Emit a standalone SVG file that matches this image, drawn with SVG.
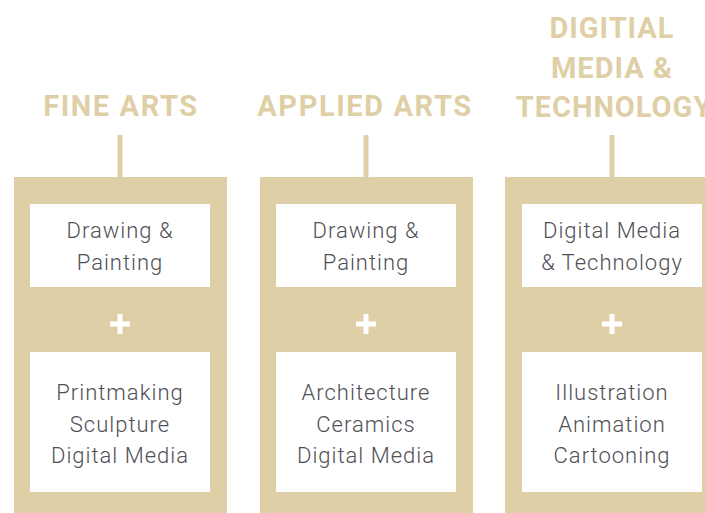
<svg xmlns="http://www.w3.org/2000/svg" width="705" height="513" viewBox="0 0 705 513">
<style>
.frame{fill:#dfcfa6}
.card{fill:#ffffff}
.head{font-family:Roboto,"Liberation Sans",sans-serif;font-weight:700;font-size:29px;fill:#dfcfa6;text-anchor:middle;letter-spacing:1.6px}
.head2{letter-spacing:1px}
.body{font-family:Roboto,"Liberation Sans",sans-serif;font-weight:300;font-size:22px;fill:#505056;text-anchor:middle;letter-spacing:1px}
.plus{stroke:#ffffff;stroke-width:5;fill:none}
.link{stroke:#dfcfa6;stroke-width:5;fill:none}
</style>
<rect width="705" height="513" fill="#ffffff"/>
<g id="connectors">
<line class="link" x1="120" y1="135" x2="120" y2="178"/>
<line class="link" x1="366" y1="135" x2="366" y2="178"/>
<line class="link" x1="612" y1="135" x2="612" y2="178"/>
</g>
<g id="fine-arts">
<text class="head" x="121" y="116">FINE ARTS</text>
<rect class="frame" x="14" y="177" width="213" height="336"/>
<rect class="card" x="30" y="204" width="180" height="83"/>
<text class="body" x="120" y="238">Drawing &amp;</text>
<text class="body" x="120" y="270">Painting</text>
<path class="plus" d="M110 324H130M120 314V334"/>
<rect class="card" x="30" y="352" width="180" height="140"/>
<text class="body" x="120" y="400">Printmaking</text>
<text class="body" x="120" y="432">Sculpture</text>
<text class="body" x="120" y="463">Digital Media</text>
</g>
<g id="applied-arts">
<text class="head" x="365" y="116">APPLIED ARTS</text>
<rect class="frame" x="260" y="177" width="213" height="336"/>
<rect class="card" x="276" y="204" width="180" height="83"/>
<text class="body" x="366" y="238">Drawing &amp;</text>
<text class="body" x="366" y="270">Painting</text>
<path class="plus" d="M356 324H376M366 314V334"/>
<rect class="card" x="276" y="352" width="180" height="140"/>
<text class="body" x="366" y="400">Architecture</text>
<text class="body" x="366" y="432">Ceramics</text>
<text class="body" x="366" y="463">Digital Media</text>
</g>
<g id="digital-media">
<text class="head head2" x="612" y="38">DIGITIAL</text>
<text class="head head2" x="612" y="78">MEDIA &amp;</text>
<text class="head head2" x="614" y="117">TECHNOLOGY</text>
<rect class="frame" x="505" y="177" width="213" height="336"/>
<rect class="card" x="522" y="204" width="180" height="83"/>
<text class="body" x="612" y="238">Digital Media</text>
<text class="body" x="612" y="270">&amp; Technology</text>
<path class="plus" d="M602 324H622M612 314V334"/>
<rect class="card" x="522" y="352" width="180" height="140"/>
<text class="body" x="612" y="400">Illustration</text>
<text class="body" x="612" y="432">Animation</text>
<text class="body" x="612" y="463">Cartooning</text>
</g>
</svg>
